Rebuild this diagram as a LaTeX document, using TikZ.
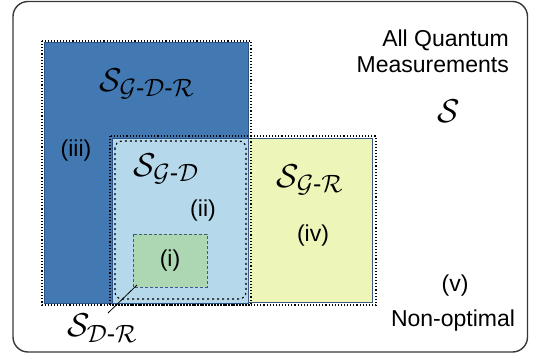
\RequirePackage{fix-cm}
\documentclass[tikz,border=0pt]{standalone}
\usepackage{fontspec}
\setmainfont{Liberation Sans}
\usepackage{amsmath}
\DeclareMathSizes{33}{33}{25}{18}
\definecolor{gdrblue}{RGB}{66,121,179}
\definecolor{edgeblue}{RGB}{42,82,132}
\definecolor{gdblue}{RGB}{182,216,235}
\definecolor{gryellow}{RGB}{238,245,185}
\definecolor{drgreen}{RGB}{173,214,178}
\definecolor{framegray}{RGB}{55,55,55}
\begin{document}
\begin{tikzpicture}[x=1pt,y=-1pt,
    setlabel/.style={font=\fontsize{33}{35}\selectfont, inner sep=0pt},
    regionlabel/.style={font=\fontsize{23}{25}\selectfont, inner sep=0pt},
    setedge/.style={dotted, line width=1.1pt}]
        \useasboundingbox (0,0) rectangle (534,361);

        % Frame: all quantum measurements
        \draw[framegray, line width=1.4pt, rounded corners=15pt] (13,1.5) rectangle (527.5,352);

        % Filled regions
        \fill[gdrblue] (44,43) rectangle (248,303);
        \draw[edgeblue, line width=1pt] (44,43) rectangle (248,303);
        \fill[gdblue] (112,138) rectangle (248,303);
        \draw[edgeblue, line width=1pt] (112,138) rectangle (248,303);
        \fill[gryellow] (248,138) rectangle (372,302);
        \draw[edgeblue!80!gray, line width=1pt] (248,138) rectangle (372,302);
        \fill[drgreen] (133,234) rectangle (207,287);
        \draw[edgeblue!80!gray, densely dashed, line width=0.6pt] (133,234) rectangle (207,287);

        % Set boundaries
        \draw[setedge] (42,41) rectangle (251,305);
        \draw[setedge] (110,136) rectangle (376,305);
        \draw[setedge, dash pattern=on 2pt off 3pt, rounded corners=7pt] (115,141) rectangle (246,299);

        % Set labels
        \node[setlabel] (sgdr) at (147,84) {$\mathcal{S}_{\mathcal{G}\text{-}\mathcal{D}\text{-}\mathcal{R}}$};
        \node[setlabel] (sgd) at (166,169) {$\mathcal{S}_{\mathcal{G}\text{-}\mathcal{D}}$};
        \node[setlabel] (sgr) at (310,180) {$\mathcal{S}_{\mathcal{G}\text{-}\mathcal{R}}$};
        \node[setlabel] (sdr) at (102,328) {$\mathcal{S}_{\mathcal{D}\text{-}\mathcal{R}}$};
        \node[setlabel] (sall) at (449,111) {$\mathcal{S}$};

        % Region labels
        \node[regionlabel] (riii) at (76,151) {(iii)};
        \node[regionlabel] (rii) at (203,211) {(ii)};
        \node[regionlabel] (ri) at (170,261) {(i)};
        \node[regionlabel] (riv) at (313,236) {(iv)};
        \node[regionlabel] (rv) at (455,286) {(v)};
        \node[regionlabel] (nonopt) at (453,321) {Non-optimal};
        \node[regionlabel, align=right, anchor=north east] (allq) at (509,30) {All Quantum\\[1pt]Measurements};

        % Pointer to the green region
        \coordinate (drcorner) at (137,285);
        \draw[line width=0.8pt] (drcorner) -- (108,313);
\end{tikzpicture}
\end{document}
